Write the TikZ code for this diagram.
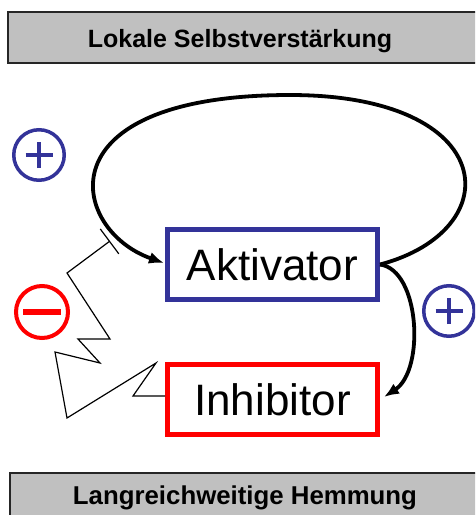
\documentclass[tikz,border=0pt]{standalone}
\usepackage{fontspec}
\setmainfont{Liberation Sans}
\usetikzlibrary{arrows.meta}
\definecolor{signblue}{RGB}{51,51,153}
\definecolor{bandgray}{RGB}{192,192,192}
\tikzset{
  band/.style={rectangle, fill=bandgray, draw=black!85, line width=1.5pt, inner sep=0pt},
  bandtext/.style={font=\bfseries\fontsize{25}{30}\selectfont, anchor=base, inner sep=0pt},
  substance/.style={rectangle, line width=5pt, minimum width=210pt, minimum height=70pt,
    inner sep=0pt, font=\fontsize{44}{50}\selectfont},
  pluscircle/.style={circle, draw=signblue, line width=3.5pt, minimum size=50.5pt, inner sep=0pt,
    path picture={
      \draw[signblue, line width=3.5pt]
        ([xshift=-13.5pt]path picture bounding box.center) -- ([xshift=13.5pt]path picture bounding box.center)
        ([yshift=-13pt]path picture bounding box.center) -- ([yshift=13pt]path picture bounding box.center);
    }},
  minuscircle/.style={circle, draw=red, line width=4pt, minimum size=52pt, inner sep=0pt,
    path picture={
      \draw[red, line width=6.5pt]
        ([xshift=-19pt]path picture bounding box.center) -- ([xshift=19pt]path picture bounding box.center);
    }},
  feedback/.style={line width=3.8pt, -{Latex[length=15pt,width=12pt]}},
  inhibit/.style={line width=1.2pt, line join=miter, -{Bar[width=31pt,line width=1.2pt]}}
}
\begin{document}
\begin{tikzpicture}[x=1pt,y=-1pt]
\useasboundingbox (0,0) rectangle (475,515);
\clip (0,0) rectangle (475,515);

% Title bands
\node[band, minimum width=472pt, minimum height=51pt] (topband) at (244,37.5) {};
\node[bandtext] (toptext) at (240,47) {Lokale Selbstverstärkung};
\node[band, minimum width=470pt, minimum height=54pt] (bottomband) at (245,500) {};
\node[bandtext, font=\bfseries\fontsize{25.8}{30}\selectfont] (bottomtext) at (245,504) {Langreichweitige Hemmung};

% Substances
\node[substance, draw=signblue] (akt) at (272.5,264.5) {Aktivator};
\node[substance, draw=red] (inh) at (272.5,399.5) {Inhibitor};

% Signs
\node[pluscircle] (plusleft) at (39,155) {};
\node[pluscircle] (plusright) at (449,311) {};
\node[minuscircle] (minus) at (42,312) {};

% Self-enhancement loop
\draw[feedback] (akt.east) .. controls (510,230) and (500,95) .. (290,95)
  .. controls (40,95) and (70,230) .. ([shift={(-1,-1.5)}]akt.west);

% Activation of the inhibitor
\draw[feedback] (akt.east) .. controls (420,270) and (425,370) .. ([shift={(4,-2.5)}]inh.east);

% Long-range inhibition
\coordinate (block) at (110,241);
\draw[inhibit] ([yshift=3.5pt]inh.west) -- (133,396) -- (156,363) -- (67,418) -- (55,352)
  -- (100,363) -- (78,339) -- (110,339) -- (67,273) -- (block);
\end{tikzpicture}
\end{document}
